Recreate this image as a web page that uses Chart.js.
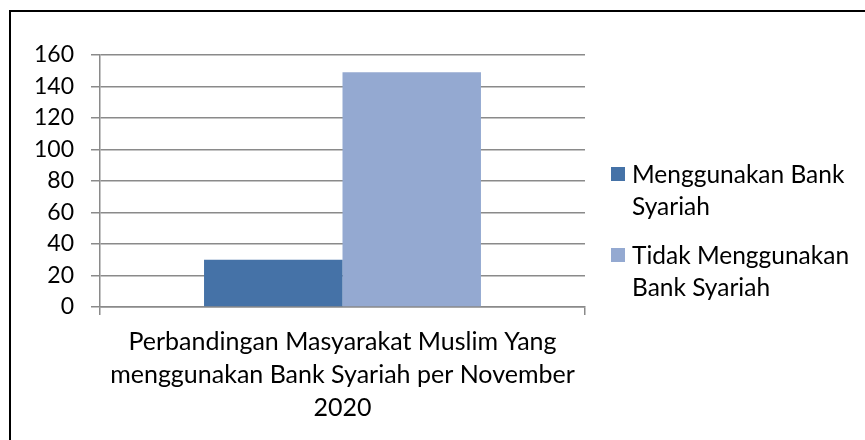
<!DOCTYPE html>
<html>
<head>
<meta charset="utf-8">
<script src="https://cdn.jsdelivr.net/npm/chart.js@4"></script>
<style>
  html, body { margin: 0; padding: 0; background: #fff; overflow: hidden; }
  #wrap { position: relative; width: 865px; height: 440px; }
  #frame { position: absolute; left: 9px; top: 10px; width: 900px; height: 500px; border: 2px solid #000; }
  #chart { position: absolute; left: 0; top: 0; }
  #legend { position: absolute; left: 611px; top: 158px; font-family: Lato, "Open Sans", sans-serif; font-size: 24.5px; color: #000; }
  .item { position: relative; padding-left: 21px; line-height: 32px; margin-bottom: 17px; }
  .box { position: absolute; left: 0; top: 9px; width: 14px; height: 14px; }
</style>
</head>
<body>
<div id="wrap">
  <div id="frame"></div>
  <canvas id="chart" width="865" height="440"></canvas>
  <div id="legend"></div>
</div>
<script>
// data from the picture
const categories = [["Perbandingan Masyarakat Muslim Yang", "menggunakan Bank Syariah per November", "2020"]];
const seriesNames = ["Menggunakan Bank|Syariah", "Tidak Menggunakan|Bank Syariah"];
const menggunakan = [30];
const tidakMenggunakan = [149];
const seriesColors = ["#4572a7", "#94a9d1"];
const yTicks = [0, 20, 40, 60, 80, 100, 120, 140, 160];

const gridColor = "#8a8a8a";
const family = "Lato, 'Open Sans', sans-serif";

new Chart(document.getElementById("chart"), {
    type: "bar",
    data: {
        labels: categories,
        datasets: [
            { label: seriesNames[0], data: menggunakan, backgroundColor: seriesColors[0] },
            { label: seriesNames[1], data: tidakMenggunakan, backgroundColor: seriesColors[1] }
        ]
    },
    options: {
        responsive: false,
        animation: false,
        layout: { padding: { left: 0, top: 55, right: 280, bottom: 0 } },
        plugins: { legend: { display: false }, tooltip: { enabled: false } },
        datasets: { bar: { categoryPercentage: 0.571, barPercentage: 1 } },
        scales: {
            x: {
                grid: { offset: true, drawOnChartArea: false, drawTicks: true, tickLength: 8, color: gridColor, lineWidth: 1.5 },
                border: { color: gridColor, width: 1.5 },
                ticks: { color: "#000", font: { family: family, size: 25, lineHeight: 1.33 }, padding: 10 },
                afterFit: s => { s.height = 133; }
            },
            y: {
                min: 0, max: 160,
                afterBuildTicks: s => { s.ticks = yTicks.map(v => ({ value: v })); },
                grid: { color: gridColor, lineWidth: 1.5, tickLength: 9 },
                border: { color: gridColor, width: 1.5 },
                ticks: { color: "#000", font: { family: family, size: 23 }, padding: 17, autoSkip: false },
                afterFit: s => { s.width = 100; }
            }
        }
    }
});

// legend on the right, text wrapped like the original
const legend = document.getElementById("legend");
seriesNames.forEach((name, i) => {
    const item = document.createElement("div");
    item.className = "item";
    item.innerHTML = '<span class="box" style="background:' + seriesColors[i] + '"></span>' + name.split("|").join("<br>");
    legend.appendChild(item);
});
</script>
</body>
</html>
